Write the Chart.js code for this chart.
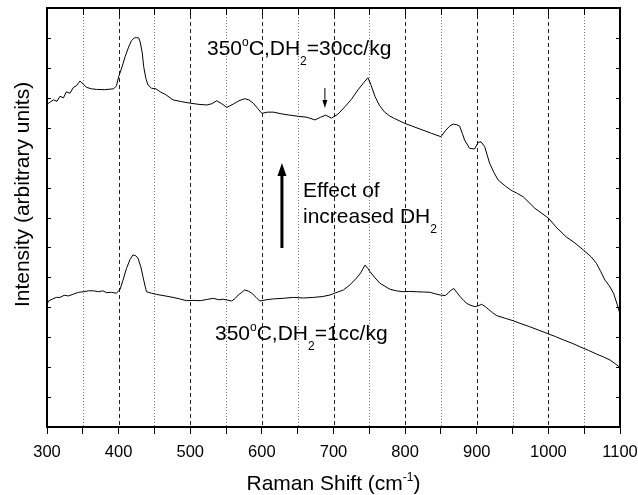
<!DOCTYPE html>
<html><head><meta charset="utf-8">
<script src="https://cdn.jsdelivr.net/npm/chart.js@4.4.0/dist/chart.umd.min.js"></script>
<style>html,body{margin:0;padding:0;background:#fff}#wrap{width:638px;height:495px}</style>
</head><body><div id="wrap"><canvas id="c" width="638" height="495"></canvas></div>
<script>
// ---- data ----
const shift30 = [300,304,309,314,318,323,327,332,337,341,346,351,355,362,369,380,393,397,400,405,409,414,418,422,425,428,430,433,435,438,441,446,452,458,466,476,488,500,512,523,530,537,544,551,560,568,576,582,588,594,600,608,616,628,639,651,663,674,682,689,697,706,716,725,734,742,748,752,758,764,771,778,785,799,818,837,850,857,862,867,872,876,880,883,890,897,902,906,911,918,924,930,940,948,957,965,981,1000,1012,1025,1037,1049,1060,1067,1073,1079,1085,1091,1096,1100];
const intensity30 = [10.78,10.85,10.93,10.88,11.05,11.0,11.20,11.15,11.35,11.40,11.56,11.45,11.35,11.30,11.28,11.27,11.30,11.40,11.70,12.05,12.37,12.70,12.91,13.00,13.01,13.00,12.87,12.50,12.04,11.65,11.43,11.32,11.30,11.20,11.10,10.93,10.87,10.82,10.78,10.76,10.80,10.90,10.80,10.68,10.79,10.90,10.97,10.93,10.82,10.65,10.48,10.52,10.52,10.46,10.42,10.38,10.35,10.26,10.35,10.42,10.32,10.45,10.70,10.95,11.26,11.50,11.67,11.45,11.04,10.75,10.53,10.40,10.31,10.15,9.98,9.81,9.70,9.92,10.05,10.12,10.10,10.06,9.80,9.59,9.31,9.29,9.51,9.53,9.37,8.81,8.50,8.25,8.05,7.91,7.80,7.69,7.31,6.98,6.65,6.35,6.15,5.91,5.68,5.47,5.20,4.91,4.72,4.47,4.10,3.78];
const shift1 = [300,302,308,313,318,324,330,337,344,351,358,365,372,378,383,390,397,402,406,411,416,420,424,427,431,434,437,439,446,453,465,476,485,495,505,514,523,532,540,546,552,558,563,567,572,576,581,586,592,597,606,616,630,644,658,672,685,695,705,714,723,732,738,744,748,751,758,765,772,779,788,797,806,816,826,835,842,849,856,860,863,868,872,877,882,886,892,898,903,907,912,916,922,928,940,951,962,974,986,998,1010,1021,1033,1044,1056,1067,1077,1086,1093,1100];
const intensity1 = [4.08,4.21,4.28,4.33,4.33,4.40,4.38,4.44,4.50,4.52,4.55,4.55,4.52,4.55,4.49,4.50,4.47,4.60,4.90,5.30,5.60,5.75,5.72,5.64,5.35,5.02,4.70,4.52,4.47,4.43,4.38,4.33,4.28,4.22,4.23,4.22,4.26,4.30,4.25,4.27,4.24,4.21,4.30,4.41,4.50,4.58,4.54,4.47,4.33,4.21,4.25,4.28,4.30,4.33,4.31,4.33,4.36,4.41,4.50,4.58,4.75,4.97,5.15,5.41,5.30,5.19,4.98,4.80,4.70,4.60,4.55,4.52,4.53,4.52,4.51,4.50,4.45,4.41,4.39,4.47,4.55,4.63,4.50,4.35,4.22,4.13,4.06,4.02,4.06,4.10,4.02,3.94,3.82,3.72,3.63,3.55,3.45,3.35,3.24,3.13,3.02,2.91,2.80,2.68,2.56,2.44,2.34,2.24,2.12,1.99];
const xTickLabels = [300,400,500,600,700,800,900,1000,1100];
const gridLines = [350,400,450,500,550,600,650,700,750,800,850,900,950,1000,1050];
const xTitleParts = [['Raman Shift (cm'],['-1','sup'],[')']];
const yTitle = 'Intensity (arbitrary units)';
const labelHigh = [['350'],['o','sup'],['C,DH'],['2','sub'],['=30cc/kg']];
const labelLow = [['350'],['o','sup'],['C,DH'],['2','sub'],['=1cc/kg']];
const effectLine1 = [['Effect of']];
const effectLine2 = [['increased DH'],['2','sub']];

const FONT = "'Liberation Sans', Arial, sans-serif";

function toPts(xs, ys){ return xs.map((v,i)=>({x:v,y:ys[i]})); }

function drawRich(ctx, x, y, parts, size, align){
  const small = Math.round(size*0.58);
  let w = 0;
  const meas = parts.map(p=>{
    ctx.font = (p[1] ? small : size) + 'px ' + FONT;
    const m = ctx.measureText(p[0]).width; w += m; return m;
  });
  let cx = align === 'center' ? x - w/2 : x;
  ctx.textAlign = 'left'; ctx.textBaseline = 'alphabetic';
  parts.forEach((p,i)=>{
    ctx.font = (p[1] ? small : size) + 'px ' + FONT;
    let dy = 0;
    if (p[1]==='sup') dy = -size*0.42;
    if (p[1]==='sub') dy = size*0.5;
    ctx.fillText(p[0], cx, y+dy);
    cx += meas[i];
  });
}

function arrow(ctx, x0, y0, x1, y1, lw, headLen, headW){
  const ang = Math.atan2(y1-y0, x1-x0);
  const bx = x1 - headLen*Math.cos(ang), by = y1 - headLen*Math.sin(ang);
  ctx.lineWidth = lw; ctx.setLineDash([]);
  ctx.beginPath(); ctx.moveTo(x0,y0); ctx.lineTo(bx,by); ctx.stroke();
  ctx.beginPath();
  ctx.moveTo(x1,y1);
  ctx.lineTo(bx + headW/2*Math.sin(ang), by - headW/2*Math.cos(ang));
  ctx.lineTo(bx - headW/2*Math.sin(ang), by + headW/2*Math.cos(ang));
  ctx.closePath(); ctx.fill();
}

const decor = {
  id:'decor',
  beforeDatasetsDraw(chart){
    const {ctx, chartArea:a, scales:{x}} = chart;
    ctx.save(); ctx.lineWidth = 1;
    gridLines.forEach(v=>{
      const px = Math.round(x.getPixelForValue(v)) + 0.5;
      if (v % 100 === 0){ ctx.setLineDash([4,3]); ctx.strokeStyle = '#222'; }
      else { ctx.setLineDash([1,2]); ctx.strokeStyle = '#777'; }
      ctx.beginPath(); ctx.moveTo(px, a.top); ctx.lineTo(px, a.bottom); ctx.stroke();
    });
    ctx.restore();
  },
  afterDatasetsDraw(chart){
    const {ctx, chartArea:a, scales:{x,y}} = chart;
    ctx.save();
    ctx.strokeStyle = '#000'; ctx.fillStyle = '#000'; ctx.setLineDash([]);
    // frame
    ctx.lineWidth = 2; ctx.strokeRect(a.left, a.top, a.right-a.left, a.bottom-a.top);
    // inner ticks
    ctx.lineWidth = 1;
    x.ticks.forEach(t=>{
      const px = Math.round(x.getPixelForValue(t.value)) + 0.5;
      ctx.beginPath(); ctx.moveTo(px, a.top); ctx.lineTo(px, a.top+7); ctx.stroke();
    });
    for (let v = 1; v < 14; v++){
      const py = Math.round(y.getPixelForValue(v)) + 0.5;
      ctx.beginPath(); ctx.moveTo(a.left, py); ctx.lineTo(a.left+4, py); ctx.stroke();
      ctx.beginPath(); ctx.moveTo(a.right-4, py); ctx.lineTo(a.right, py); ctx.stroke();
    }
    // arrows
    arrow(ctx, x.getPixelForValue(688), y.getPixelForValue(11.33), x.getPixelForValue(688), y.getPixelForValue(10.66), 1, 8, 5);
    arrow(ctx, x.getPixelForValue(628), y.getPixelForValue(5.98), x.getPixelForValue(628), y.getPixelForValue(8.82), 3, 13, 9);
    // labels
    drawRich(ctx, x.getPixelForValue(523.4), y.getPixelForValue(12.43), labelHigh, 21);
    drawRich(ctx, x.getPixelForValue(534.5), y.getPixelForValue(2.91), labelLow, 21);
    drawRich(ctx, x.getPixelForValue(657.4), y.getPixelForValue(7.68), effectLine1, 21);
    drawRich(ctx, x.getPixelForValue(657.4), y.getPixelForValue(6.82), effectLine2, 21);
    // axis titles
    drawRich(ctx, (a.left+a.right)/2, 490, xTitleParts, 21, 'center');
    ctx.save();
    ctx.translate(28.5, 194.5); ctx.rotate(-Math.PI/2);
    ctx.font = '21px ' + FONT; ctx.textAlign = 'center'; ctx.textBaseline = 'alphabetic';
    ctx.fillText(yTitle, 0, 0);
    ctx.restore();
    ctx.restore();
  }
};

new Chart(document.getElementById('c'), {
  type:'line',
  data:{ datasets:[
    { label:'350°C, DH2=30cc/kg', data: toPts(shift30, intensity30), borderColor:'#000', borderWidth:1, pointRadius:0, tension:0, fill:false },
    { label:'350°C, DH2=1cc/kg', data: toPts(shift1, intensity1), borderColor:'#000', borderWidth:1, pointRadius:0, tension:0, fill:false }
  ]},
  options:{
    responsive:false, animation:false, devicePixelRatio:1,
    layout:{ padding:{ left:0, right:18, top:8, bottom:0 } },
    plugins:{ legend:{display:false}, tooltip:{enabled:false} },
    scales:{
      x:{ type:'linear', min:300, max:1100,
        afterFit(s){ s.height = 68; s.paddingLeft = 0; s.paddingRight = 0; },
        ticks:{ stepSize:50, autoSkip:false, maxRotation:0, padding:9, color:'#000',
          font:{ family:FONT, size:16.5 },
          callback:v => xTickLabels.includes(v) ? String(v) : '' },
        grid:{ drawOnChartArea:false, drawTicks:true, tickLength:7, tickColor:'#000', tickWidth:1 },
        border:{ display:false }
      },
      y:{ min:0, max:14,
        afterFit(s){ s.width = 47; s.paddingTop = 0; s.paddingBottom = 0; },
        ticks:{ display:false, stepSize:1 },
        grid:{ display:false },
        border:{ display:false }
      }
    }
  },
  plugins:[decor]
});
</script></body></html>
